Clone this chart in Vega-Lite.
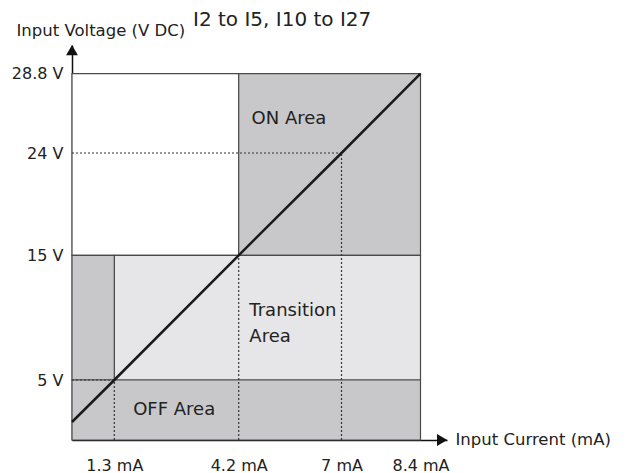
{
  "$schema": "https://vega.github.io/schema/vega-lite/v6.json",
  "width": 375,
  "height": 395,
  "autosize": {"type": "none"},
  "padding": {"left": 72, "top": 45, "right": 182, "bottom": 33},
  "background": "white",
  "title": {
    "text": "I2 to I5, I10 to I27",
    "frame": "group",
    "anchor": "start",
    "dx": 121,
    "dy": 22,
    "offset": 14,
    "fontSize": 20,
    "fontWeight": "normal",
    "color": "#222"
  },
  "config": {
    "font": "DejaVu Sans",
    "view": {"stroke": null},
    "axis": {"grid": false, "ticks": false, "tickSize": 0, "domainColor": "#111", "domainWidth": 1.5, "labelColor": "#222", "labelFontSize": 16, "titleColor": "#222", "titleFontSize": 16.5, "titleFontWeight": "normal", "zindex": 1}
  },
  "encoding": {
    "x": {
      "field": "x", "type": "quantitative",
      "scale": {"domain": [0, 1.3, 4.2, 7, 8.4, 9], "range": [0, 42.3, 166.7, 269.5, 348.5, 375], "nice": false, "zero": false},
      "axis": {"values": [1.3, 4.2, 7, 8.4], "labelExpr": "datum.value + ' mA'", "labelBaseline": "alphabetic", "labelPadding": 30, "labelFlush": false, "labelOverlap": false, "title": "Input Current (mA)", "titleX": 383, "titleY": 4, "titleAlign": "left", "titleBaseline": "alphabetic", "titleAnchor": null}
    },
    "y": {
      "field": "y", "type": "quantitative",
      "scale": {"domain": [0, 5, 15, 24, 28.8, 31], "range": [395, 335, 210.3, 108, 28.7, 0], "nice": false, "zero": false},
      "axis": {"values": [5, 15, 24, 28.8], "labelExpr": "datum.value + ' V'", "labelPadding": 9, "labelFlush": false, "labelOverlap": false, "title": "Input Voltage (V DC)", "titleAngle": 0, "titleX": -56, "titleY": -10, "titleAlign": "left", "titleBaseline": "alphabetic", "titleAnchor": null}
    }
  },
  "layer": [
    {
      "data": {"values": [
        {"zone": "blank", "x": 0, "x2": 4.2, "y": 15, "y2": 28.8},
        {"zone": "on", "x": 4.2, "x2": 8.4, "y": 15, "y2": 28.8},
        {"zone": "transition", "x": 1.3, "x2": 8.4, "y": 5, "y2": 15},
        {"zone": "offleft", "x": 0, "x2": 1.3, "y": 5, "y2": 15},
        {"zone": "off", "x": 0, "x2": 8.4, "y": 0, "y2": 5}
      ]},
      "mark": {"type": "rect", "stroke": "#4a4a4a", "strokeWidth": 1.2},
      "encoding": {
        "x2": {"field": "x2"},
        "y2": {"field": "y2"},
        "color": {"field": "zone", "type": "nominal", "legend": null,
          "scale": {"domain": ["blank", "on", "transition", "offleft", "off"], "range": ["#ffffff", "#c8c8ca", "#e6e6e8", "#c8c8ca", "#c8c8ca"]}}
      }
    },
    {
      "data": {"values": [
        {"x": 0, "x2": 1.3, "y": 5, "y2": 5},
        {"x": 1.3, "x2": 1.3, "y": 0, "y2": 5},
        {"x": 4.2, "x2": 4.2, "y": 0, "y2": 15},
        {"x": 7, "x2": 7, "y": 0, "y2": 24},
        {"x": 0, "x2": 7, "y": 24, "y2": 24}
      ]},
      "mark": {"type": "rule", "color": "#333", "strokeWidth": 1.2, "strokeDash": [2, 2]},
      "encoding": {"x2": {"field": "x2"}, "y2": {"field": "y2"}}
    },
    {
      "data": {"values": [
        {"x": 0, "y": 1.5},
        {"x": 1.3, "y": 5},
        {"x": 4.2, "y": 15},
        {"x": 7, "y": 24},
        {"x": 8.4, "y": 28.8}
      ]},
      "mark": {"type": "line", "color": "#1a1a1a", "strokeWidth": 2.5},
      "encoding": {}
    },
    {
      "data": {"values": [
        {"x": 0, "y": 30.6, "dir": "up"},
        {"x": 8.89, "y": 0, "dir": "right"}
      ]},
      "mark": {"type": "point", "filled": true, "color": "#111", "opacity": 1, "size": 140},
      "encoding": {
        "shape": {"field": "dir", "type": "nominal", "legend": null,
          "scale": {"domain": ["up", "right"], "range": ["triangle-up", "triangle-right"]}}
      }
    },
    {
      "data": {"values": [
        {"x": 4.55, "y": 26.03, "label": "ON Area"},
        {"x": 4.49, "y": 10.53, "label": "Transition"},
        {"x": 4.49, "y": 8.45, "label": "Area"},
        {"x": 1.74, "y": 2.5, "label": "OFF Area"}
      ]},
      "mark": {"type": "text", "align": "left", "baseline": "middle", "fontSize": 18, "color": "#222"},
      "encoding": {"text": {"field": "label"}}
    }
  ]
}
